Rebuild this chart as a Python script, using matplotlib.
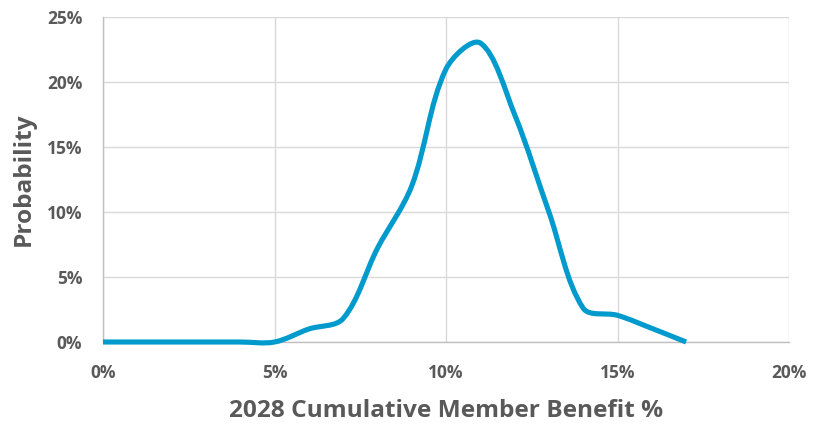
import matplotlib.pyplot as plt
import numpy as np
from matplotlib.path import Path
from matplotlib.patches import PathPatch
from matplotlib.ticker import FuncFormatter

DPI = 100

# Данные: накопленная выгода (%) и вероятность (%)
benefit = [0, 1, 2, 3, 4, 5, 6, 7, 8, 9, 10, 11, 12, 13, 14, 15, 16, 17]
probability = [0, 0, 0, 0, 0, 0, 1.0, 1.8, 7.2, 12.0, 21.0, 23.0, 17.5, 10.0, 2.6, 2.05, 1.05, 0]

x_ticks = [0, 5, 10, 15, 20]
y_ticks = [0, 5, 10, 15, 20, 25]

GREY = "#595959"
BLUE = "#009ACD"

plt.rcParams['font.family'] = ['Open Sans', 'DejaVu Sans']


def smooth_path(xs, ys, sx=34.3, sy=13.0):
    """Сглаженная линия как в Excel: кривые Безье, длина касательных по хордам"""
    pts = np.column_stack([xs, ys]).astype(float)
    scale = np.array([sx, sy])
    n = len(pts)

    def dist(a, b):
        return np.hypot(*((b - a) * scale))

    verts = [pts[0]]
    codes = [Path.MOVETO]
    for i in range(n - 1):
        p0 = pts[max(i - 1, 0)]
        p1 = pts[i]
        p2 = pts[i + 1]
        p3 = pts[min(i + 2, n - 1)]
        d01, d12, d23 = dist(p0, p1), dist(p1, p2), dist(p2, p3)
        k1 = d12 / (3 * (d01 + d12)) if d01 + d12 > 0 else 0
        k2 = d12 / (3 * (d12 + d23)) if d12 + d23 > 0 else 0
        c1 = p1 + (p2 - p0) * k1
        c2 = p2 - (p3 - p1) * k2
        verts += [c1, c2, p2]
        codes += [Path.CURVE4] * 3
    return Path(verts, codes)


fig = plt.figure(figsize=(815 / DPI, 429 / DPI), dpi=DPI)
ax = fig.add_axes([103 / 815, 87 / 429, 686 / 815, 325 / 429])

patch = PathPatch(smooth_path(benefit, probability), fill=False,
                  edgecolor=BLUE, lw=3.7, capstyle='butt', joinstyle='round',
                  zorder=3, clip_on=False)
ax.add_patch(patch)

ax.set_xlim(0, 20)
ax.set_ylim(0, 25)
ax.set_xticks(x_ticks)
ax.set_yticks(y_ticks)
ax.xaxis.set_major_formatter(FuncFormatter(lambda v, p: f"{v:.0f}%"))
ax.yaxis.set_major_formatter(FuncFormatter(lambda v, p: f"{v:.0f}%"))

ax.grid(True, color="#D9D9D9", lw=1)
ax.set_axisbelow(True)
for side in ['top', 'right']:
    ax.spines[side].set_visible(False)
for side in ['left', 'bottom']:
    ax.spines[side].set_color("#BFBFBF")
    ax.spines[side].set_linewidth(1)

ax.tick_params(length=0, labelsize=12.5, labelcolor=GREY)
ax.tick_params(axis='y', pad=15)
ax.tick_params(axis='x', pad=16)
for lab in ax.get_xticklabels() + ax.get_yticklabels():
    lab.set_fontweight('bold')

ax.set_xlabel("2028 Cumulative Member Benefit %", fontsize=17.6, fontweight='bold',
              color=GREY, labelpad=12)
ax.set_ylabel("Probability", fontsize=17.6, fontweight='bold', color=GREY, labelpad=8)

plt.savefig("out.png", dpi=DPI)
plt.close()
